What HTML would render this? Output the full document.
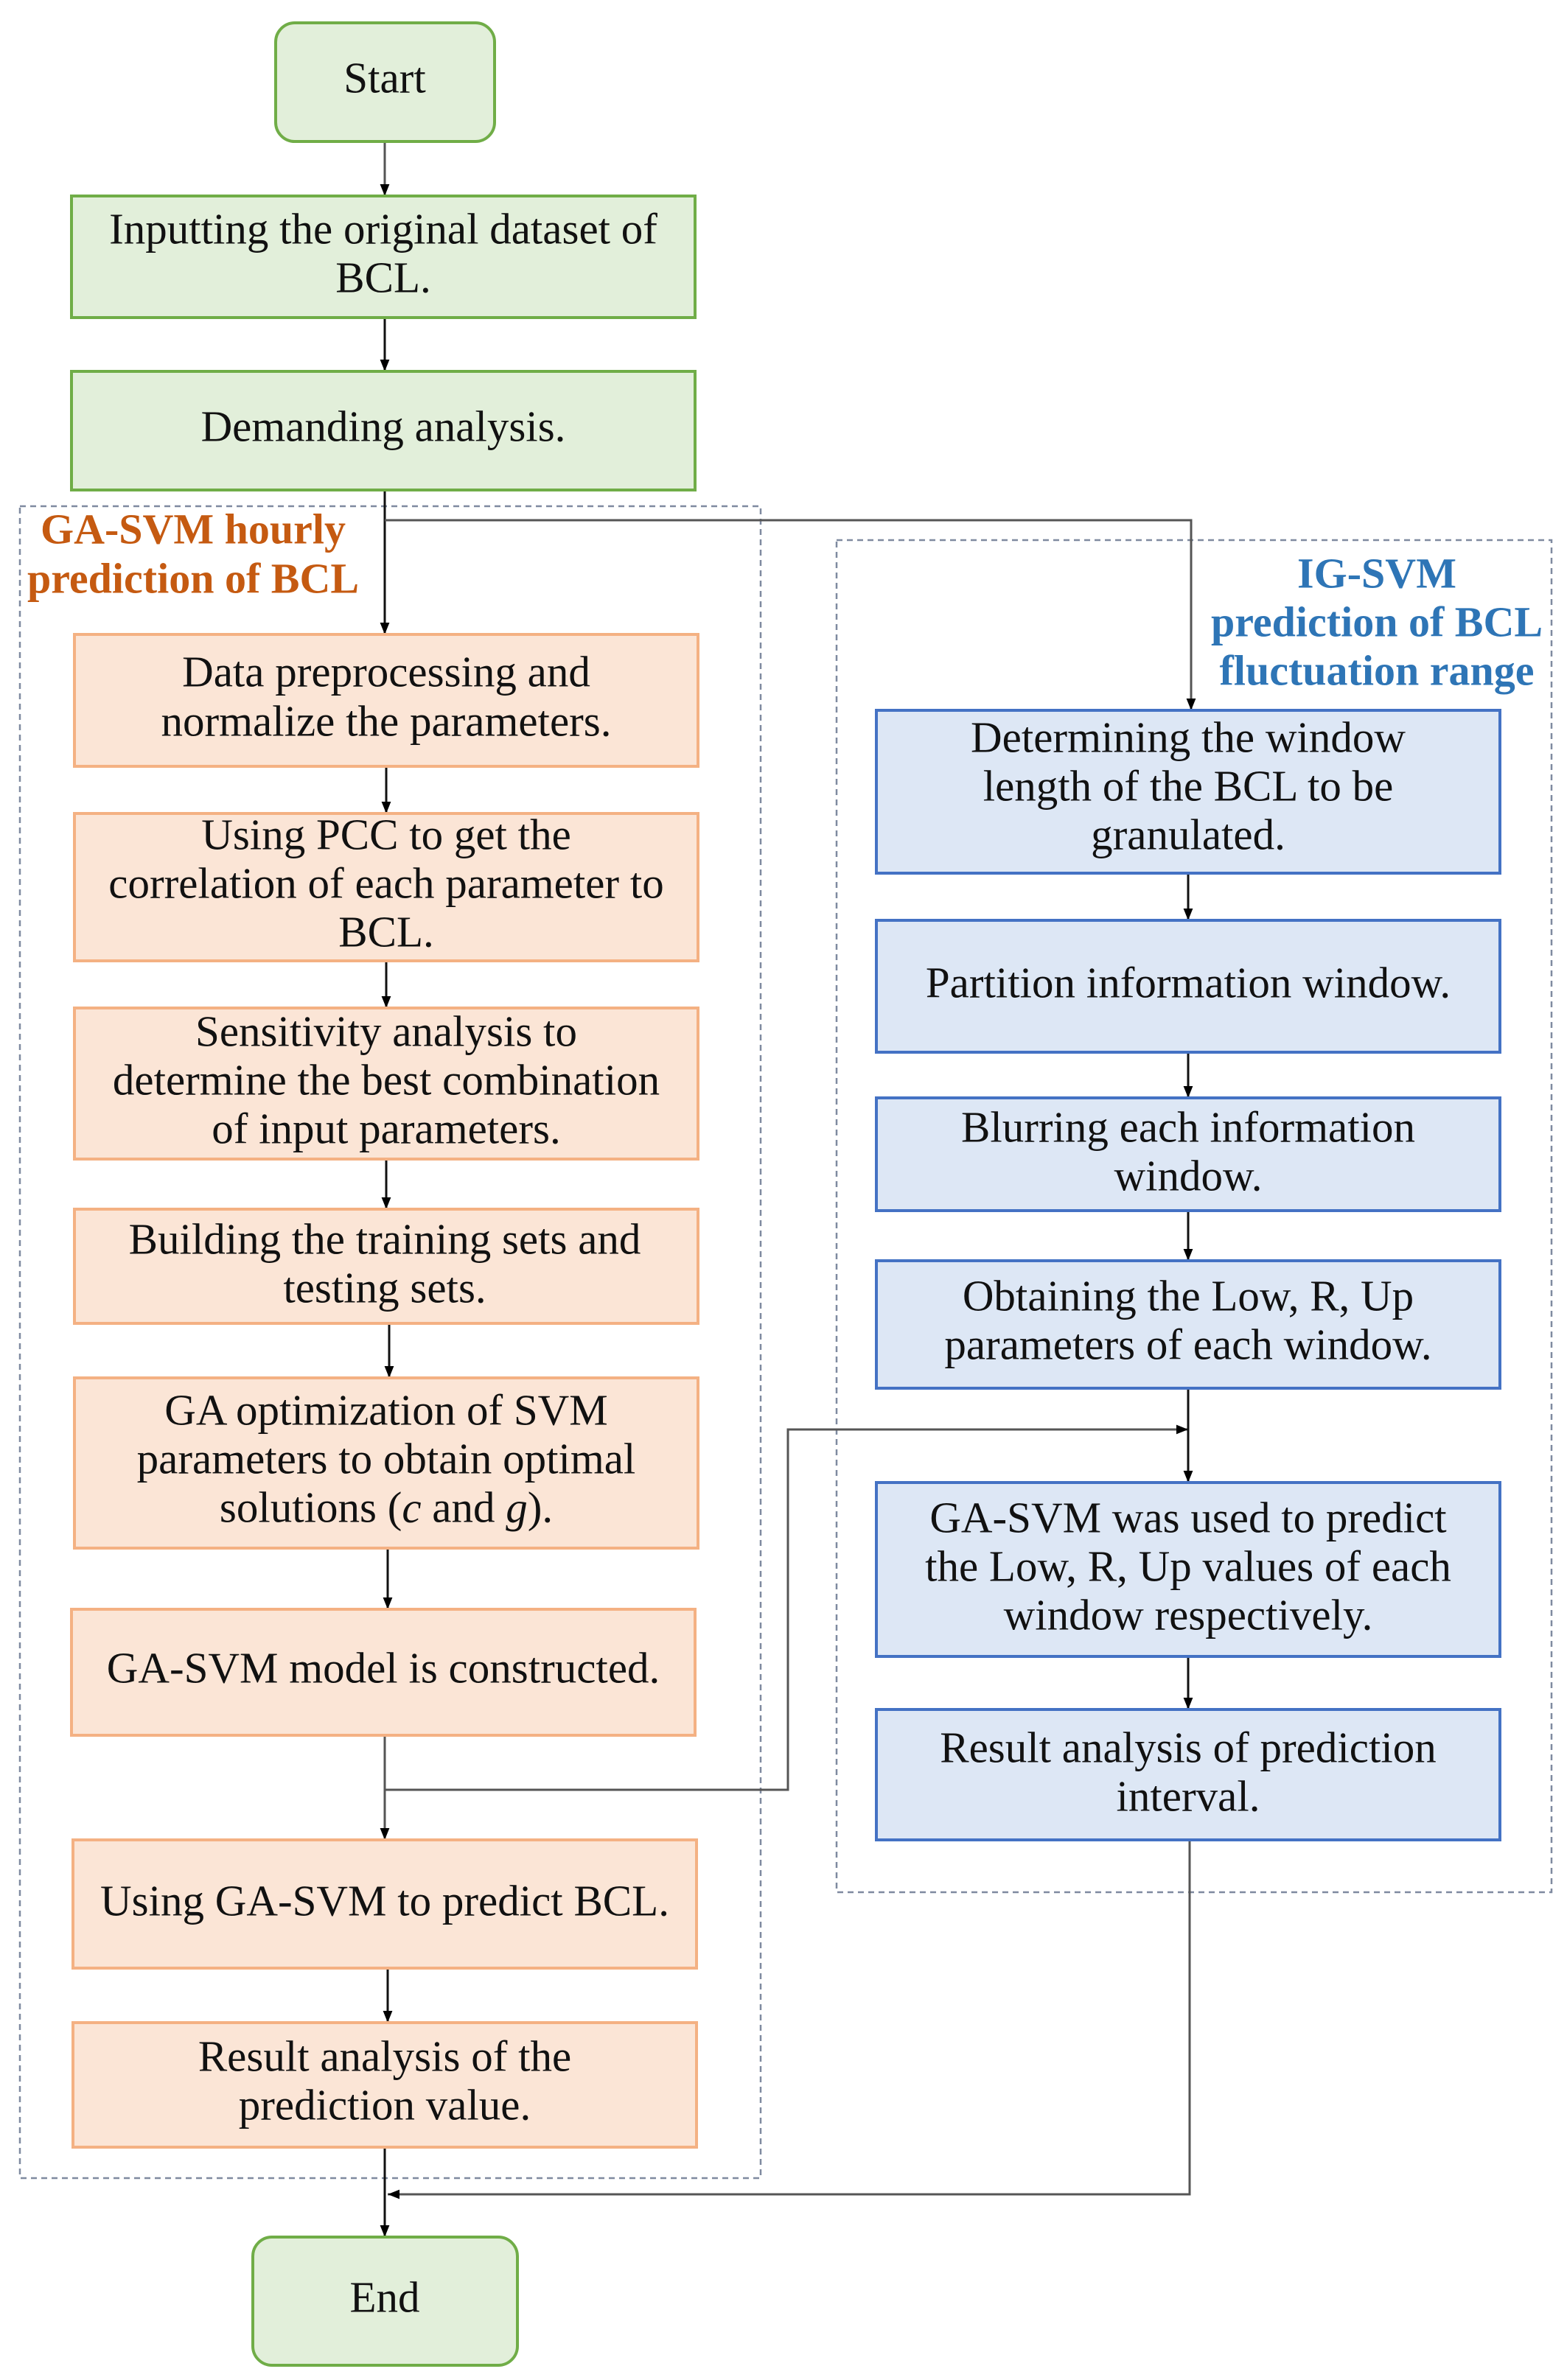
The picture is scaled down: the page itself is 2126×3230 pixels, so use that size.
<!DOCTYPE html>
<html><head><meta charset="utf-8"><style>html,body{margin:0;padding:0;background:#fff}svg{display:block}</style></head>
<body>
<svg width="2126" height="3230" viewBox="0 0 2126 3230" xmlns="http://www.w3.org/2000/svg" font-family="'Liberation Serif',serif">
<defs>
<marker id="a" markerWidth="16" markerHeight="20" refX="20" refY="8" orient="auto" markerUnits="userSpaceOnUse" viewBox="0 0 20 16"><path d="M0,0 L20,8 L0,16 z" fill="#000"/></marker>
</defs>
<style>
.g{fill:#e2efda;stroke:#70ad47;stroke-width:4}
.o{fill:#fbe5d6;stroke:#f4b183;stroke-width:4}
.b{fill:#dde7f5;stroke:#4472c4;stroke-width:4}
.t{font-size:59px;fill:#111;text-anchor:middle;dominant-baseline:middle}
.l{fill:none;stroke:#111;stroke-width:3}
.lg{fill:none;stroke:#555;stroke-width:3}
.d{fill:none;stroke:#7f8aa0;stroke-width:2.5;stroke-dasharray:8,6}
.h{font-size:58px;font-weight:bold;dominant-baseline:middle}
</style>
<rect class="d" x="27" y="687" width="1005" height="2269"/>
<rect class="d" x="1135" y="733" width="970" height="1835"/>
<text class="h" x="262" y="724" fill="#c55a11" text-anchor="middle">GA-SVM hourly</text>
<text class="h" x="262" y="791" fill="#c55a11" text-anchor="middle">prediction of BCL</text>
<text class="h" x="1868" y="784" fill="#2e75b6" text-anchor="middle">IG-SVM</text>
<text class="h" x="1868" y="850" fill="#2e75b6" text-anchor="middle">prediction of BCL</text>
<text class="h" x="1868" y="916" fill="#2e75b6" text-anchor="middle">fluctuation range</text>

<path class="lg" d="M522,192 V266" marker-end="url(#a)"/>
<path class="l" d="M522,431 V504" marker-end="url(#a)"/>
<path class="l" d="M522,665 V861" marker-end="url(#a)"/>
<path class="lg" d="M522,706 H1616 V964" marker-end="url(#a)"/>
<path class="l" d="M524,1040 V1104" marker-end="url(#a)"/>
<path class="l" d="M524,1304 V1368" marker-end="url(#a)"/>
<path class="l" d="M524,1573 V1641" marker-end="url(#a)"/>
<path class="l" d="M528,1796 V1870" marker-end="url(#a)"/>
<path class="l" d="M526,2101 V2184" marker-end="url(#a)"/>
<path class="lg" d="M522,2355 V2497" marker-end="url(#a)"/>
<path class="lg" d="M522,2429 H1069 V1940 H1612" marker-end="url(#a)"/>
<path class="l" d="M526,2671 V2745" marker-end="url(#a)"/>
<path class="l" d="M522,2914 V3036" marker-end="url(#a)"/>
<path class="lg" d="M1614,2497 V2978 H526" marker-end="url(#a)"/>
<path class="l" d="M1612,1185 V1249" marker-end="url(#a)"/>
<path class="l" d="M1612,1428 V1490" marker-end="url(#a)"/>
<path class="l" d="M1612,1643 V1711" marker-end="url(#a)"/>
<path class="l" d="M1612,1884 V2012" marker-end="url(#a)"/>
<path class="l" d="M1612,2248 V2320" marker-end="url(#a)"/>

<rect class="g" x="374" y="31" width="297" height="161" rx="26"/>
<text class="t" x="522" y="112">Start</text>
<rect class="g" x="97" y="266" width="846" height="165"/>
<text class="t" x="520" y="317">Inputting the original dataset of</text>
<text class="t" x="520" y="383">BCL.</text>
<rect class="g" x="97" y="504" width="846" height="161"/>
<text class="t" x="520" y="585">Demanding analysis.</text>

<rect class="o" x="101" y="861" width="846" height="179"/>
<text class="t" x="524" y="918">Data preprocessing  and</text>
<text class="t" x="524" y="985">normalize the parameters.</text>
<rect class="o" x="101" y="1104" width="846" height="200"/>
<text class="t" x="524" y="1139">Using PCC to get the</text>
<text class="t" x="524" y="1205">correlation of each parameter to</text>
<text class="t" x="524" y="1271">BCL.</text>
<rect class="o" x="101" y="1368" width="846" height="205"/>
<text class="t" x="524" y="1406">Sensitivity analysis to</text>
<text class="t" x="524" y="1472">determine the best combination</text>
<text class="t" x="524" y="1538">of input parameters.</text>
<rect class="o" x="101" y="1641" width="846" height="155"/>
<text class="t" x="522" y="1688">Building the training sets and</text>
<text class="t" x="522" y="1754">testing sets.</text>
<rect class="o" x="101" y="1870" width="846" height="231"/>
<text class="t" x="524" y="1920">GA optimization of SVM</text>
<text class="t" x="524" y="1986">parameters to obtain optimal</text>
<text class="t" x="524" y="2052">solutions (<tspan font-style="italic">c</tspan> and <tspan font-style="italic">g</tspan>).</text>
<rect class="o" x="97" y="2184" width="846" height="171"/>
<text class="t" x="520" y="2270">GA-SVM model is constructed.</text>
<rect class="o" x="99" y="2497" width="846" height="174"/>
<text class="t" x="522" y="2586">Using GA-SVM to predict  BCL.</text>
<rect class="o" x="99" y="2745" width="846" height="169"/>
<text class="t" x="522" y="2797">Result analysis of the</text>
<text class="t" x="522" y="2863">prediction value.</text>

<rect class="b" x="1189" y="964" width="846" height="221"/>
<text class="t" x="1612" y="1007">Determining the window</text>
<text class="t" x="1612" y="1073">length of the BCL to be</text>
<text class="t" x="1612" y="1139">granulated.</text>
<rect class="b" x="1189" y="1249" width="846" height="179"/>
<text class="t" x="1612" y="1340">Partition information window.</text>
<rect class="b" x="1189" y="1490" width="846" height="153"/>
<text class="t" x="1612" y="1536">Blurring each information</text>
<text class="t" x="1612" y="1602">window.</text>
<rect class="b" x="1189" y="1711" width="846" height="173"/>
<text class="t" x="1612" y="1765">Obtaining the Low, R, Up</text>
<text class="t" x="1612" y="1831">parameters of each window.</text>
<rect class="b" x="1189" y="2012" width="846" height="236"/>
<text class="t" x="1612" y="2066">GA-SVM was used to predict</text>
<text class="t" x="1612" y="2132">the Low, R, Up values of each</text>
<text class="t" x="1612" y="2198">window respectively.</text>
<rect class="b" x="1189" y="2320" width="846" height="177"/>
<text class="t" x="1612" y="2378">Result analysis of prediction</text>
<text class="t" x="1612" y="2444">interval.</text>

<rect class="g" x="343" y="3036" width="359" height="174" rx="26"/>
<text class="t" x="522" y="3124">End</text>
</svg>
</body></html>
